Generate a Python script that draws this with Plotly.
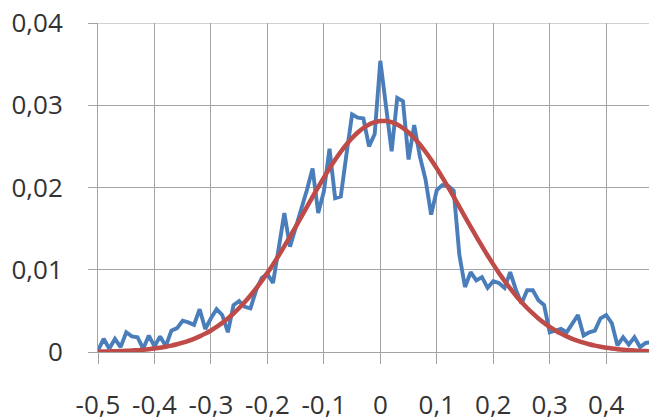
import plotly.graph_objects as go

# category positions (x values)
x_values = [round(-0.5 + 0.01 * i, 2) for i in range(100)]

empirical = [
    0.0002, 0.0016, 0.0004, 0.0016, 0.0006, 0.0024, 0.0019, 0.0018, 0.0004, 0.0020,
    0.0007, 0.0019, 0.0007, 0.0026, 0.0029, 0.0038, 0.0036, 0.0033, 0.0052, 0.0028,
    0.0041, 0.0052, 0.0045, 0.0024, 0.0057, 0.0062, 0.0055, 0.0053, 0.0075, 0.0090,
    0.0095, 0.0084, 0.0126, 0.0169, 0.0128, 0.0150, 0.0173, 0.0197, 0.0223, 0.0169,
    0.0195, 0.0247, 0.0187, 0.0189, 0.0240, 0.0289, 0.0285, 0.0284, 0.0250, 0.0265,
    0.0354, 0.0300, 0.0244, 0.0309, 0.0305, 0.0234, 0.0276, 0.0238, 0.0210, 0.0167,
    0.0197, 0.0203, 0.0202, 0.0196, 0.0118, 0.0079, 0.0097, 0.0087, 0.0091, 0.0078,
    0.0086, 0.0084, 0.0078, 0.0097, 0.0076, 0.0059, 0.0075, 0.0075, 0.0063, 0.0057,
    0.0024, 0.0026, 0.0028, 0.0024, 0.0035, 0.0045, 0.0020, 0.0024, 0.0026, 0.0041,
    0.0045, 0.0035, 0.0008, 0.0018, 0.0009, 0.0018, 0.0006, 0.0011, 0.0012, 0.0012,
]

# theoretical (red) curve
theoretical = [
    0.000042, 0.000054, 0.000070, 0.000089, 0.000113, 0.000143, 0.000180, 0.000225, 0.000280, 0.000347,
    0.000428, 0.000525, 0.000640, 0.000777, 0.000939, 0.001128, 0.001349, 0.001604, 0.001899, 0.002235,
    0.002620, 0.003053, 0.003539, 0.004082, 0.004685, 0.005350, 0.006078, 0.006868, 0.007724, 0.008641,
    0.009619, 0.010653, 0.011737, 0.012864, 0.014030, 0.015225, 0.016436, 0.017652, 0.018864, 0.020055,
    0.021210, 0.022323, 0.023371, 0.024343, 0.025228, 0.026012, 0.026684, 0.027235, 0.027656, 0.027939,
    0.028082, 0.028082, 0.027939, 0.027656, 0.027235, 0.026684, 0.026012, 0.025228, 0.024343, 0.023371,
    0.022323, 0.021210, 0.020055, 0.018864, 0.017652, 0.016436, 0.015225, 0.014030, 0.012864, 0.011737,
    0.010653, 0.009619, 0.008641, 0.007724, 0.006868, 0.006078, 0.005350, 0.004685, 0.004082, 0.003539,
    0.003053, 0.002620, 0.002235, 0.001899, 0.001604, 0.001349, 0.001128, 0.000939, 0.000777, 0.000640,
    0.000525, 0.000428, 0.000347, 0.000280, 0.000225, 0.000180, 0.000143, 0.000113, 0.000089, 0.000070,
]

x_tick_vals = [-0.5, -0.4, -0.3, -0.2, -0.1, 0.0, 0.1, 0.2, 0.3, 0.4]
x_tick_text = ["-0,5", "-0,4", "-0,3", "-0,2", "-0,1", "0", "0,1", "0,2", "0,3", "0,4"]
y_tick_vals = [0.0, 0.01, 0.02, 0.03, 0.04]
y_tick_text = ["0", "0,01", "0,02", "0,03", "0,04"]

grid_color = "#a3a3a3"
text_color = "#333333"

fig = go.Figure()
fig.add_trace(go.Scatter(
    x=x_values, y=empirical, mode="lines",
    line=dict(color="#4a7ebb", width=3.9), showlegend=False,
))
fig.add_trace(go.Scatter(
    x=x_values, y=theoretical, mode="lines",
    line=dict(color="#be4b48", width=4.5, shape="spline", smoothing=0.6), showlegend=False,
))

# page body has an 8px margin, so the figure is sized to end at the window edge
fig.update_layout(
    width=649, height=410,
    margin=dict(l=90, r=0, t=15, b=66, pad=0, autoexpand=False),
    paper_bgcolor="white", plot_bgcolor="white",
    font=dict(family="Open Sans", size=26, color=text_color),
)
# top gridline (plotly drops gridlines lying on the plot edge)
fig.add_shape(
    type="line", xref="paper", x0=0, x1=1, yref="y",
    y0=y_tick_vals[-1], y1=y_tick_vals[-1],
    line=dict(color=grid_color, width=1), layer="below",
)
fig.update_xaxes(
    range=[-0.5, 0.49], tickmode="array", tickvals=x_tick_vals, ticktext=x_tick_text,
    showgrid=True, gridcolor=grid_color, gridwidth=1,
    showline=True, linecolor=grid_color, linewidth=1,
    ticks="outside", ticklen=11, tickcolor=grid_color, tickwidth=1,
    zeroline=False, ticklabelstandoff=19, automargin=False, ticklabeloverflow="allow",
)
fig.update_yaxes(
    range=[0, 0.04], tickmode="array", tickvals=y_tick_vals, ticktext=y_tick_text,
    showgrid=True, gridcolor=grid_color, gridwidth=1,
    showline=True, linecolor=grid_color, linewidth=1,
    ticks="outside", ticklen=9, tickcolor=grid_color, tickwidth=1,
    zeroline=False, ticklabelstandoff=20, automargin=False, ticklabeloverflow="allow",
)

fig.write_html("out.html")
